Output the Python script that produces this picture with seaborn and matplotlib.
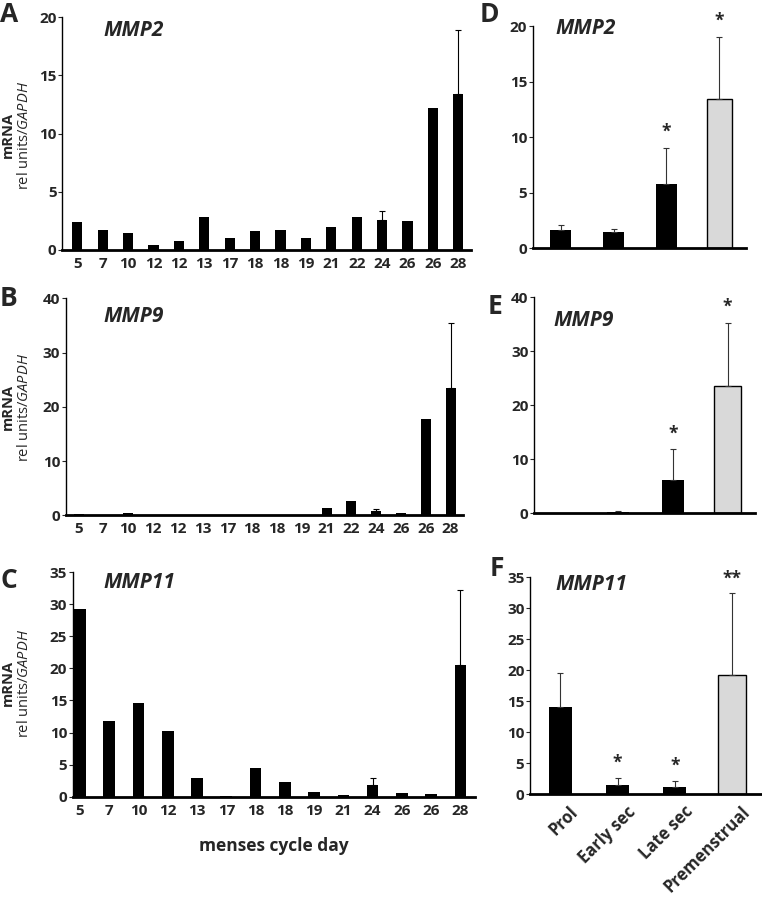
import numpy as np
import pandas as pd
import matplotlib
matplotlib.use("Agg")
import matplotlib.pyplot as plt
import matplotlib.transforms as mtransforms
import seaborn as sns

# ---- data ----
days_ab = ["5", "7", "10", "12", "12", "13", "17", "18", "18", "19", "21", "22", "24", "26", "26", "28"]
days_c = ["5", "7", "10", "12", "13", "17", "18", "18", "19", "21", "24", "26", "26", "28"]

mmp2_days = [2.44, 1.75, 1.5, 0.43, 0.74, 2.8, 1.0, 1.66, 1.75, 1.0, 2.0, 2.8, 2.55, 2.5, 12.2, 13.45]
mmp2_days_err = [0, 0, 0, 0, 0, 0, 0, 0, 0, 0, 0, 0, 0.78, 0, 0, 5.5]

mmp9_days = [0.3, 0, 0.35, 0, 0, 0.1, 0, 0.1, 0, 0, 1.3, 2.64, 0.86, 0.37, 17.7, 23.4]
mmp9_days_err = [0, 0, 0, 0, 0, 0, 0, 0, 0, 0, 0, 0, 0.3, 0, 0, 12.0]

mmp11_days = [29.3, 11.84, 14.6, 10.2, 2.9, 0.15, 4.46, 2.23, 0.73, 0.3, 1.82, 0.6, 0.45, 20.5]
mmp11_days_err = [0, 0, 0, 0, 0, 0, 0, 0, 0, 0, 1.04, 0, 0, 11.7]

phases = ["Prol", "Early sec", "Late sec", "Premenstrual"]
mmp2_phase = [1.62, 1.47, 5.79, 13.47]
mmp2_phase_err = [0.51, 0.24, 3.27, 5.58]
mmp2_stars = ["", "", "*", "*"]
mmp9_phase = [0.05, 0.2, 6.1, 23.6]
mmp9_phase_err = [0, 0.23, 5.8, 11.7]
mmp9_stars = ["", "", "*", "*"]
mmp11_phase = [14.0, 1.45, 1.13, 19.3]
mmp11_phase_err = [5.6, 1.13, 0.97, 13.1]
mmp11_stars = ["", "*", "*", "**"]

sns.set_style("white")
plt.rcParams["font.family"] = ["Open Sans", "DejaVu Sans"]
plt.rcParams["mathtext.fontset"] = "custom"
plt.rcParams["mathtext.it"] = "Open Sans:italic"
plt.rcParams["mathtext.rm"] = "Open Sans"

fig = plt.figure(figsize=(7.62, 8.97), dpi=100)


def style_axis(ax, ymax, step):
    ax.set_ylim(0, ymax)
    ticks = np.arange(0, ymax + 0.1, step)
    ax.set_yticks(ticks)
    ax.set_yticklabels([f"{int(v)}" for v in ticks], fontsize=11, fontweight="bold")
    for s in ["top", "right"]:
        ax.spines[s].set_visible(False)
    ax.spines["left"].set_linewidth(1.0)
    ax.spines["bottom"].set_linewidth(2.0)
    ax.spines["left"].set_color("black")
    ax.spines["bottom"].set_color("black")
    ax.tick_params(axis="y", left=True, length=3, width=0.8, pad=1, direction="out")
    ax.tick_params(axis="x", bottom=False, length=0)
    ax.set_xlabel("")
    ax.set_ylabel("")


def day_panel(rect, labels, vals, errs, ymax, step, xlim):
    ax = fig.add_axes(rect)
    df = pd.DataFrame({"pos": np.arange(len(vals)), "val": vals})
    sns.barplot(data=df, x="pos", y="val", color="black", width=0.4,
                errorbar=None, ax=ax, linewidth=0)
    e = np.array(errs)
    m = e > 0
    ax.errorbar(df["pos"][m], np.array(vals)[m], yerr=[np.zeros(m.sum()), e[m]],
                fmt="none", ecolor="black", elinewidth=0.8, capsize=2.5, capthick=0.8)
    ax.set_xlim(*xlim)
    ax.set_xticks(np.arange(len(labels)))
    ax.set_xticklabels(labels, fontsize=11, fontweight="bold")
    style_axis(ax, ymax, step)
    ax.tick_params(axis="x", pad=5)
    return ax


def phase_panel(rect, vals, errs, stars, ymax, step, star_pad):
    ax = fig.add_axes(rect)
    df = pd.DataFrame({"phase": phases, "val": vals})
    sns.barplot(data=df.iloc[:3], x="phase", y="val", order=phases, color="black",
                width=0.4, errorbar=None, ax=ax, linewidth=0)
    sns.barplot(data=df.iloc[3:], x="phase", y="val", order=phases, color="#d9d9d9",
                width=0.48, errorbar=None, ax=ax, edgecolor="black", linewidth=1.0)
    e = np.array(errs)
    m = e > 0
    ax.errorbar(np.arange(4)[m], np.array(vals)[m], yerr=[np.zeros(m.sum()), e[m]],
                fmt="none", ecolor="#333333", elinewidth=0.8, capsize=2.5, capthick=0.8)
    for i, s in enumerate(stars):
        if s:
            ax.text(i, vals[i] + errs[i] + star_pad, s, ha="center", va="bottom",
                    fontsize=12.5, fontweight="bold")
    ax.set_xlim(-0.53, 3.5)
    style_axis(ax, ymax, step)
    ax.set_xticks([])
    return ax


axA = day_panel([0.0814, 0.7213, 0.5367, 0.2594], days_ab, mmp2_days, mmp2_days_err, 20, 5, (-0.6, 15.5))
axB = day_panel([0.0862, 0.4255, 0.5214, 0.2419], days_ab, mmp9_days, mmp9_days_err, 40, 10, (-0.52, 15.5))
axC = day_panel([0.0954, 0.1118, 0.5280, 0.2505], days_c, mmp11_days, mmp11_days_err, 35, 5, (-0.25, 13.5))
axC.set_xlabel("menses cycle day", fontsize=12.5, fontweight="bold", labelpad=14)

axD = phase_panel([0.6991, 0.7232, 0.2795, 0.2478], mmp2_phase, mmp2_phase_err, mmp2_stars, 20, 5, 0.6)
axE = phase_panel([0.7008, 0.4278, 0.2900, 0.2408], mmp9_phase, mmp9_phase_err, mmp9_stars, 40, 10, 1.2)
axF = phase_panel([0.6955, 0.1145, 0.3030, 0.2419], mmp11_phase, mmp11_phase_err, mmp11_stars, 35, 5, 1.0)
axF.set_xticks(np.arange(4))
axF.set_xticklabels(phases, rotation=45, ha="right", rotation_mode="anchor",
                    fontsize=12, fontweight="bold")
axF.tick_params(axis="x", pad=6)
shift = mtransforms.ScaledTranslation(9 / 100, 0, fig.dpi_scale_trans)
for lab in axF.get_xticklabels():
    lab.set_transform(lab.get_transform() + shift)

# gene titles
W, H = 762.0, 897.0
for x, y, t in [(103, 30, "MMP2"), (103, 316, "MMP9"), (103, 583, "MMP11"),
                (555, 28, "MMP2"), (553, 320, "MMP9"), (555, 584, "MMP11")]:
    fig.text(x / W, 1 - y / H, t, ha="left", va="center", fontsize=15,
             fontweight="bold", style="italic")

# panel letters
for x, y, t in [(0, 14, "A"), (0, 298, "B"), (0, 580, "C"),
                (480, 14, "D"), (488, 306, "E"), (490, 568, "F")]:
    fig.text(x / W, 1 - y / H, t, ha="left", va="center", fontsize=19, fontweight="bold")

# y labels
for yc in [135, 407, 683]:
    fig.text(8 / W, 1 - yc / H, "mRNA", rotation=90, ha="center", va="center",
             fontsize=10.5, fontweight="bold")
    fig.text(25 / W, 1 - yc / H, r"rel units/$\mathit{GAPDH}$", rotation=90,
             ha="center", va="center", fontsize=10.5)

fig.savefig("out.png", dpi=100)
